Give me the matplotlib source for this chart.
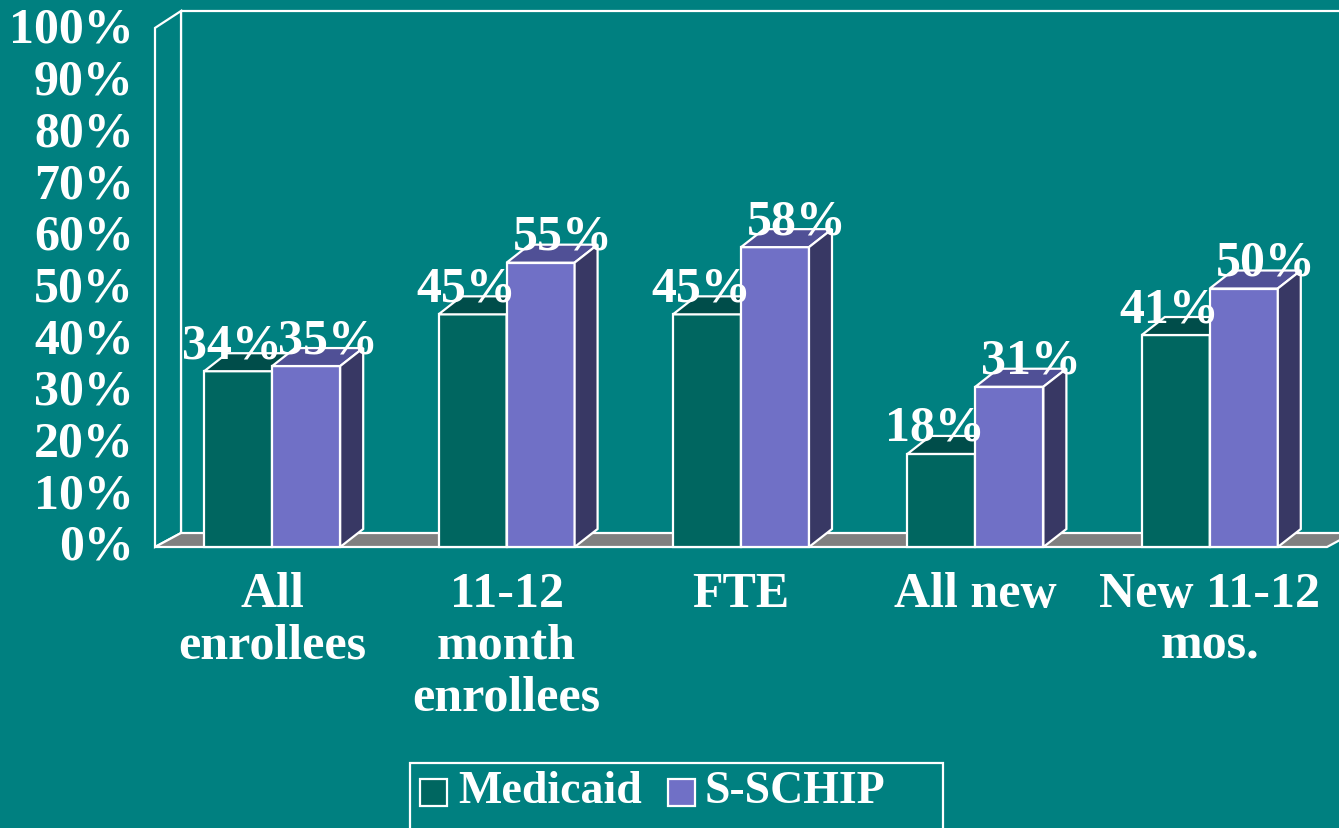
import numpy as np
import matplotlib
matplotlib.use("Agg")
import matplotlib.pyplot as plt
from matplotlib.patches import Polygon, Rectangle

# data
categories = ["All\nenrollees", "11-12\nmonth\nenrollees", "FTE", "All new", "New 11-12\nmos."]
medicaid = [34, 45, 45, 18, 41]
schip = [35, 55, 58, 31, 50]
series_names = ["Medicaid", "S-SCHIP"]
yticks = list(range(0, 101, 10))

bg = "#008080"
med_front, med_top, med_side = "#006660", "#004d4a", "#003f3c"
sch_front, sch_top, sch_side = "#7070c6", "#505096", "#383864"
font = "Liberation Serif"

W, H = 1339, 829
fig = plt.figure(figsize=(W / 100, H / 100), dpi=100, facecolor=bg)

# front plane of the plot area in pixels
left, right, bottom, top = 155, 1327, 548, 31
ax = fig.add_axes([left / W, 1 - bottom / H, (right - left) / W, (bottom - top) / H])
ax.set_xlim(-0.5, 4.5)
ax.set_ylim(0, 100)
ax.axis("off")

px_x = (right - left) / 5.0    # pixels per category
px_y = (bottom - top) / 100.0  # pixels per percent

# wall / floor depth and bar depth (in data units)
wdx, wdy = 26 / px_x, 14 / px_y
bdx, bdy = 23 / px_x, 18 / px_y
bw = 68 / px_x
wall_top = 100 + 19 / px_y

def poly(pts, fc, ec="white", lw=1.6, z=1, fill=True):
    p = Polygon(pts, closed=True, facecolor=fc if fill else "none", edgecolor=ec,
                linewidth=lw, zorder=z, clip_on=False, joinstyle="miter")
    ax.add_patch(p)

# back wall outline
x0 = -0.5
ax.plot([x0 + wdx, x0 + wdx, 5.5], [wdy, wall_top, wall_top],
        color="white", lw=1.6, clip_on=False, zorder=1)
# left wall
poly([(x0, 0), (x0, 100 + 0.4), (x0 + wdx, wall_top), (x0 + wdx, wdy)], bg, z=1)
# floor
poly([(x0, 0), (4.5, 0), (4.5 + wdx, wdy), (x0 + wdx, wdy)], "#808080", z=1)

def bar3d(x, v, front, topc, side, z):
    poly([(x, 0), (x + bw, 0), (x + bw, v), (x, v)], front, z=z)
    poly([(x, v), (x + bw, v), (x + bw + bdx, v + bdy), (x + bdx, v + bdy)], topc, z=z)
    poly([(x + bw, 0), (x + bw + bdx, bdy), (x + bw + bdx, v + bdy), (x + bw, v)], side, z=z)

xs = np.arange(len(categories))
for i in xs:
    bar3d(i - bw, medicaid[i], med_front, med_top, med_side, 2)
    bar3d(i, schip[i], sch_front, sch_top, sch_side, 3)

fs = 36
txt = dict(color="white", fontsize=fs, fontweight="bold", family=font, zorder=5)
lab_off = 14 / px_y
for i in xs:
    ax.text(i - bw / 2 - 6 / px_x, medicaid[i] + lab_off, f"{medicaid[i]}%",
            ha="center", va="baseline", **txt)
    ax.text(i + bw / 2 + 22 / px_x, schip[i] + lab_off, f"{schip[i]}%",
            ha="center", va="baseline", **txt)

# y tick labels
for t in yticks:
    ax.text(-0.5 - 21 / px_x, t, f"{t}%", ha="right", va="center", **txt)

# category labels
for i, c in enumerate(categories):
    ax.text(i, -24 / px_y, c, ha="center", va="top", linespacing=1.17, **txt)

# legend
lg = dict(color="white", fontsize=33, fontweight="bold", family=font)
fig.patches.append(Rectangle((410 / W, 1 - 832 / H), 533 / W, 68 / H, transform=fig.transFigure,
                             facecolor="none", edgecolor="white", lw=1.6))
fig.patches.append(Rectangle((420 / W, 1 - 807 / H), 27 / W, 27 / H, transform=fig.transFigure,
                             facecolor=med_front, edgecolor="white", lw=1.6))
fig.text(458 / W, 1 - 792 / H, series_names[0], ha="left", va="center", **lg)
fig.patches.append(Rectangle((668 / W, 1 - 807 / H), 27 / W, 27 / H, transform=fig.transFigure,
                             facecolor=sch_front, edgecolor="white", lw=1.6))
fig.text(705 / W, 1 - 792 / H, series_names[1], ha="left", va="center", **lg)

fig.savefig("out.png", dpi=100, facecolor=bg)
